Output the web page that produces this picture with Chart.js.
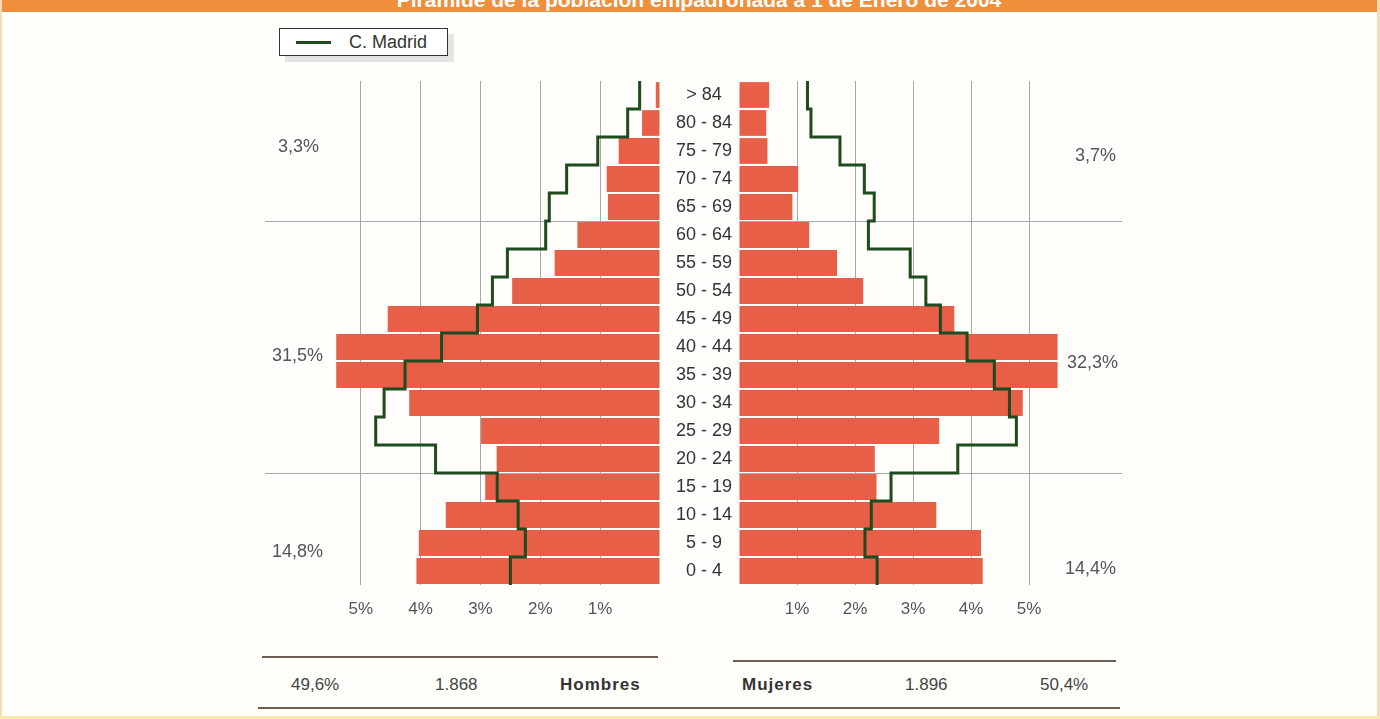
<!DOCTYPE html>
<html lang="es">
<head>
<meta charset="utf-8">
<title>Pirámide de población</title>
<script src="https://cdn.jsdelivr.net/npm/chart.js@4.4.1/dist/chart.umd.min.js"></script>
<style>
    html, body { margin: 0; padding: 0; background: #fff; }
    #pagina {
        position: relative;
        width: 1380px;
        height: 719px;
        overflow: hidden;
        background: #fffefb;
        font-family: 'Liberation Sans', Arial, sans-serif;
        color: #444;
    }
    .abs { position: absolute; white-space: nowrap; }
    #banda { left: 0; top: 0; width: 1380px; height: 12px; background: #ef8f3b; overflow: hidden; }
    #titulo { left: 0; top: -11px; width: 1398px; text-align: center; color: #fff; font-weight: bold; font-size: 21px; line-height: 21px; }
    .borde { position: absolute; background: #f6dcb6; }
    #leyenda {
        left: 279px; top: 28px; width: 167px; height: 26px;
        border: 1.5px solid #333; background: #fff;
        box-shadow: 6px 6px 0 #e4e4e4;
    }
    #leyenda .muestra { position: absolute; left: 16px; top: 12px; width: 35px; height: 3px; background: #1e4a1e; }
    #leyenda .texto { position: absolute; left: 69px; top: 3px; font-size: 18px; line-height: 20px; color: #333; }
    .nota { font-size: 18px; line-height: 20px; color: #555; }
    .pie { font-size: 17px; line-height: 20px; color: #444; top: 675px; }
    .negrita { font-weight: bold; letter-spacing: 1px; color: #333; }
    .raya { position: absolute; background: #6e5e52; height: 2px; }
    canvas { position: absolute; top: 0; }
</style>
</head>
<body>
<div id="pagina">
    <div id="banda" class="abs"><div id="titulo" class="abs">Pirámide de la población empadronada a 1 de Enero de 2004</div></div>
    <div class="borde" style="left:0;top:0;width:2px;height:719px"></div>
    <div class="borde" style="left:1377px;top:0;width:3px;height:719px"></div>
    <div class="borde" style="left:0;top:716px;width:1380px;height:3px;background:#f7e8b0"></div>

    <div id="leyenda" class="abs"><span class="muestra"></span><span class="texto">C. Madrid</span></div>

    <canvas id="chart-hombres" width="395" height="625" style="left:265px"></canvas>
    <canvas id="chart-mujeres" width="461" height="625" style="left:661px"></canvas>

    <!-- Porcentajes por grupos -->
    <div class="abs nota" style="left:278px;top:136px">3,3%</div>
    <div class="abs nota" style="left:272px;top:345px">31,5%</div>
    <div class="abs nota" style="left:272px;top:541px">14,8%</div>
    <div class="abs nota" style="left:1075px;top:145px">3,7%</div>
    <div class="abs nota" style="left:1067px;top:352px">32,3%</div>
    <div class="abs nota" style="left:1065px;top:558px">14,4%</div>

    <!-- Totales -->
    <div class="raya" style="left:262px;top:656px;width:396px"></div>
    <div class="raya" style="left:733px;top:660px;width:383px"></div>
    <div class="raya" style="left:258px;top:707px;width:862px"></div>
    <div class="abs pie" style="left:291px">49,6%</div>
    <div class="abs pie" style="left:435px">1.868</div>
    <div class="abs pie negrita" style="left:560px">Hombres</div>
    <div class="abs pie negrita" style="left:742px">Mujeres</div>
    <div class="abs pie" style="left:905px">1.896</div>
    <div class="abs pie" style="left:1040px">50,4%</div>
</div>

<script>
// ============================================
// Pirámide de población - Hombres / Mujeres
// barras = municipio, línea escalonada = C. Madrid
// ============================================

const edades = ['0 - 4', '5 - 9', '10 - 14', '15 - 19', '20 - 24', '25 - 29', '30 - 34', '35 - 39', '40 - 44',
    '45 - 49', '50 - 54', '55 - 59', '60 - 64', '65 - 69', '70 - 74', '75 - 79', '80 - 84', '> 84'];

const hombres = [4.07, 4.03, 3.58, 2.92, 2.73, 2.99, 4.19, 5.41, 5.41, 4.55, 2.47, 1.76, 1.38, 0.87, 0.89, 0.69, 0.30, 0.07];
const mujeres = [4.20, 4.17, 3.40, 2.37, 2.34, 3.45, 4.89, 5.49, 5.49, 3.71, 2.14, 1.69, 1.21, 0.92, 1.02, 0.49, 0.47, 0.52];

const madridHombres = [2.50, 2.25, 2.37, 2.72, 3.75, 4.75, 4.61, 4.26, 3.65, 3.05, 2.80, 2.55, 1.91, 1.85, 1.56, 1.04, 0.54, 0.34];
const madridMujeres = [2.38, 2.17, 2.28, 2.62, 3.77, 4.78, 4.66, 4.40, 3.93, 3.47, 3.22, 2.95, 2.23, 2.33, 2.16, 1.74, 1.24, 1.18];

const ticksX = [1, 2, 3, 4, 5];
const cortesGrupos = [3.5, 12.5]; // separa 0-19 / 20-64 / 65 y más

const COLOR_BARRA = '#e85f48';
const COLOR_LINEA = '#1e4a1e';
const COLOR_GRID = '#a8a8a8';
const TRANSPARENTE = 'rgba(0,0,0,0)';

// Convierte los valores por edad en puntos de una línea escalonada vertical
function escalones(valores) {
    const puntos = [];
    valores.forEach((v, i) => {
        puntos.push({ x: v, y: i - 0.5 });
        puntos.push({ x: v, y: i + 0.5 });
    });
    return puntos;
}

// Líneas horizontales entre grandes grupos de edad
const separadores = {
    id: 'separadores',
    beforeDatasetsDraw(chart) {
        const { ctx, chartArea } = chart;
        const yl = chart.scales.yl;
        ctx.save();
        ctx.strokeStyle = COLOR_GRID;
        ctx.lineWidth = 1;
        cortesGrupos.forEach(c => {
            const y = Math.round(yl.getPixelForValue(c)) + 0.5;
            ctx.beginPath();
            ctx.moveTo(chartArea.left, y);
            ctx.lineTo(chartArea.right, y);
            ctx.stroke();
        });
        ctx.restore();
    }
};

function crearPiramide(idCanvas, valores, valoresMadrid, lado) {
    const izquierda = lado === 'izq';
    return new Chart(document.getElementById(idCanvas), {
        type: 'bar',
        data: {
            labels: edades,
            datasets: [{
                type: 'bar',
                indexAxis: 'y',
                data: valores,
                xAxisID: 'x',
                yAxisID: 'y',
                backgroundColor: COLOR_BARRA,
                borderWidth: 0,
                barPercentage: 0.92,
                categoryPercentage: 1,
                order: 1
            }, {
                type: 'scatter',
                label: 'C. Madrid',
                data: escalones(valoresMadrid),
                xAxisID: 'x',
                yAxisID: 'yl',
                showLine: true,
                borderColor: COLOR_LINEA,
                borderWidth: 3,
                pointRadius: 0,
                tension: 0,
                fill: false,
                order: 0
            }]
        },
        options: {
            responsive: false,
            animation: false,
            events: [],
            layout: { padding: { top: 81, left: 0, right: 0, bottom: 0 } },
            plugins: {
                legend: { display: false },
                tooltip: { enabled: false },
                title: { display: false }
            },
            scales: {
                x: {
                    type: 'linear',
                    reverse: izquierda,
                    offset: false,
                    min: 0,
                    max: 6.6,
                    afterFit: s => { s.height = 40; s.paddingLeft = 0; s.paddingRight = 0; },
                    border: { display: false },
                    grid: {
                        offset: false,
                        drawTicks: true,
                        tickLength: 14,
                        tickColor: TRANSPARENTE,
                        lineWidth: 1,
                        color: c => ticksX.includes(c.tick && c.tick.value) ? COLOR_GRID : TRANSPARENTE
                    },
                    ticks: {
                        stepSize: 1,
                        padding: 0,
                        maxRotation: 0,
                        color: '#555',
                        font: { family: 'Liberation Sans', size: 17 },
                        callback: v => ticksX.includes(v) ? v + '%' : ''
                    }
                },
                y: {
                    type: 'category',
                    reverse: true,
                    offset: true,
                    display: !izquierda,
                    position: 'left',
                    afterFit: s => { s.width = izquierda ? 0 : 78; },
                    border: { display: false },
                    grid: { display: false, drawTicks: false },
                    ticks: {
                        crossAlign: 'center',
                        padding: 7,
                        color: '#333',
                        font: { family: 'Liberation Sans', size: 18 }
                    }
                },
                yl: {
                    type: 'linear',
                    display: false,
                    min: -0.5,
                    max: 17.5
                }
            }
        },
        plugins: [separadores]
    });
}

crearPiramide('chart-hombres', hombres, madridHombres, 'izq');
crearPiramide('chart-mujeres', mujeres, madridMujeres, 'der');
</script>
</body>
</html>
